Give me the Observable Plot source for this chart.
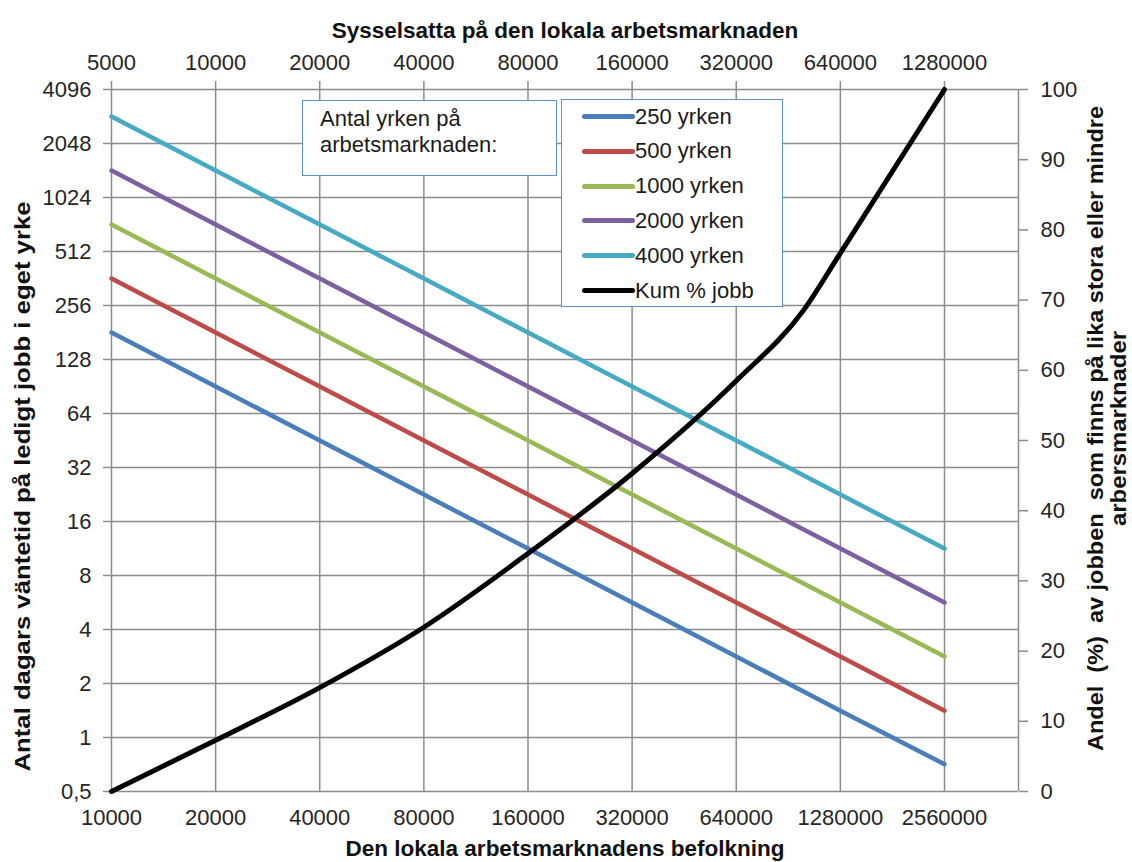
<!DOCTYPE html>
<html>
<head>
<meta charset="utf-8">
<script src="https://cdn.jsdelivr.net/npm/d3@7"></script>
<script src="https://cdn.jsdelivr.net/npm/@observablehq/plot@0.6"></script>
<style>
  body { margin: 0; background: #fff; }
  #wrap { position: relative; width: 1132px; height: 862px; font-family: "Liberation Sans", Arial, sans-serif; }
  #wrap svg text { white-space: pre; }
  .box { position: absolute; box-sizing: border-box; border: 1.5px solid #5f8fd0; background: #fff; color: #1a1a1a; font-size: 22px; }
  .row { position: absolute; left: 0; height: 35px; display: flex; align-items: center; white-space: nowrap; }
  .sw { width: 53px; height: 5px; border-radius: 2.5px; margin-left: 20px; }
</style>
</head>
<body>
<div id="wrap"></div>
<script>
// ---- data ----
const popTicks = [10000, 20000, 40000, 80000, 160000, 320000, 640000, 1280000, 2560000];
const employedTicks = [5000, 10000, 20000, 40000, 80000, 160000, 320000, 640000, 1280000];
const waitTicks = [0.5, 1, 2, 4, 8, 16, 32, 64, 128, 256, 512, 1024, 2048, 4096];
const waitTickLabels = ["0,5", "1", "2", "4", "8", "16", "32", "64", "128", "256", "512", "1024", "2048", "4096"];
const pctTicks = [0, 10, 20, 30, 40, 50, 60, 70, 80, 90, 100];

const seriesNames = ["250 yrken", "500 yrken", "1000 yrken", "2000 yrken", "4000 yrken"];
const seriesColors = ["#4a7ebb", "#be4b48", "#98b954", "#7d60a0", "#46aac5"];
const wait250  = [181, 90.5, 45.3, 22.6, 11.3, 5.66, 2.83, 1.41, 0.71];
const wait500  = [362, 181, 90.5, 45.3, 22.6, 11.3, 5.66, 2.83, 1.41];
const wait1000 = [724, 362, 181, 90.5, 45.3, 22.6, 11.3, 5.66, 2.83];
const wait2000 = [1448, 724, 362, 181, 90.5, 45.3, 22.6, 11.3, 5.66];
const wait4000 = [2896, 1448, 724, 362, 181, 90.5, 45.3, 22.6, 11.3];

const kumName = "Kum % jobb";
const kumPop = [10000, 20000, 40000, 80000, 160000, 320000, 640000, 1000000, 1280000, 2560000];
const kumPct = [0, 7.3, 14.8, 23.4, 33.9, 45.3, 58.5, 68.5, 76.7, 100];

const topTitle = "Sysselsatta på den lokala arbetsmarknaden";
const bottomTitle = "Den lokala arbetsmarknadens befolkning";
const leftTitle = "Antal dagars väntetid på ledigt jobb i eget yrke";
const rightTitle1 = "Andel  (%)  av jobben  som finns på lika stora eller mindre";
const rightTitle2 = "arbersmarknader";

// ---- build tables ----
const seriesValues = [wait250, wait500, wait1000, wait2000, wait4000];
const lines = seriesNames.flatMap((name, s) => seriesValues[s].map((v, i) => ({name, pop: popTicks[i], wait: v})));
const kum = kumPop.map((p, i) => ({pop: p, pct: kumPct[i]}));

// secondary axis: 0..100 % maps onto the full log range 0.5..4096 (13 doublings)
const yMin = 0.5, doublings = 13;
const pctToY = p => yMin * Math.pow(2, p * doublings / 100);
const yToPct = v => Math.round(Math.log2(v / yMin) / doublings * 100);

const xMax = 4190000;
const gridColor = "#8c8c8c";
const textColor = "#262626";
const titleStyle = {fontWeight: "bold", fontSize: 22.5, fill: "#111", lineAnchor: "middle", textAnchor: "middle"};

const chart = Plot.plot({
  width: 1132,
  height: 862,
  marginLeft: 111,
  marginRight: 114,
  marginTop: 89,
  marginBottom: 71,
  style: {fontFamily: '"Liberation Sans", Arial, sans-serif', fontSize: "22px", color: textColor, background: "#fff"},
  x: {type: "log", base: 2, domain: [10000, xMax]},
  y: {type: "log", base: 2, domain: [0.5, 4096]},
  color: {domain: seriesNames, range: seriesColors},
  marks: [
    Plot.gridX(popTicks, {stroke: gridColor, strokeOpacity: 1, strokeWidth: 1.5}),
    Plot.gridY(waitTicks, {stroke: gridColor, strokeOpacity: 1, strokeWidth: 1.5}),
    Plot.ruleX([xMax], {stroke: gridColor, strokeWidth: 1.5}),
    Plot.axisY(waitTicks, {anchor: "left", tickSize: 8, tickPadding: 12, stroke: gridColor, strokeWidth: 1.5, fill: textColor, fontSize: 22,
      tickFormat: d => waitTickLabels[waitTicks.indexOf(d)], label: null}),
    Plot.axisY(pctTicks.map(pctToY), {anchor: "right", tickSize: 9, tickPadding: 13, stroke: gridColor, strokeWidth: 1.5, fill: textColor, fontSize: 22,
      tickFormat: d => String(yToPct(d)), label: null}),
    Plot.axisX(popTicks, {anchor: "bottom", tickSize: 0, tickPadding: 18, fill: textColor, fontSize: 22,
      tickFormat: d => String(d), label: null}),
    Plot.axisX(popTicks, {anchor: "top", tickSize: 9, tickPadding: 11, stroke: gridColor, strokeWidth: 1.5, fill: textColor, fontSize: 22,
      tickFormat: d => String(employedTicks[popTicks.indexOf(d)]), label: null}),
    Plot.line(lines, {x: "pop", y: "wait", z: "name", stroke: "name", strokeWidth: 4.5, strokeLinecap: "round"}),
    Plot.line(kum, {x: "pop", y: d => pctToY(d.pct), stroke: "#000", strokeWidth: 5, curve: "monotone-x", strokeLinecap: "round"}),
    Plot.text([topTitle], {text: d => d, frameAnchor: "top", dy: -59, ...titleStyle}),
    Plot.text([bottomTitle], {text: d => d, frameAnchor: "bottom", dy: 57, ...titleStyle}),
    Plot.text([leftTitle], {text: d => d, frameAnchor: "left", dx: -89, dy: 46, rotate: -90, ...titleStyle}),
    Plot.text([rightTitle1], {text: d => d, frameAnchor: "right", dx: 77, dy: -12, rotate: -90, ...titleStyle, fontSize: 22}),
    Plot.text([rightTitle2], {text: d => d, frameAnchor: "right", dx: 100, dy: -12, rotate: -90, ...titleStyle, fontSize: 22})
  ]
});

const wrap = document.getElementById("wrap");
wrap.appendChild(chart);

// the reference's rotated titles are drawn somewhat elongated along their direction
const stretch = {[leftTitle]: 570, [rightTitle1]: 645, [rightTitle2]: 195};
d3.select(chart).selectAll("text").each(function() {
  const L = stretch[this.textContent];
  if (L) d3.select(this).attr("textLength", L).attr("lengthAdjust", "spacingAndGlyphs");
});

// ---- legend boxes (overlaid inside plot area) ----
const box1 = document.createElement("div");
box1.className = "box";
Object.assign(box1.style, {left: "302px", top: "100px", width: "255px", height: "76px", paddingLeft: "17px", paddingTop: "5px", lineHeight: "26px"});
box1.innerHTML = "Antal yrken på<br>arbetsmarknaden:";
wrap.appendChild(box1);

const box2 = document.createElement("div");
box2.className = "box";
Object.assign(box2.style, {left: "561px", top: "99px", width: "222px", height: "208px"});
const legendNames = [...seriesNames, kumName];
const legendColors = [...seriesColors, "#000"];
legendNames.forEach((n, i) => {
  const row = document.createElement("div");
  row.className = "row";
  row.style.top = (-1 + i * 34.8) + "px";
  const sw = document.createElement("div");
  sw.className = "sw";
  sw.style.background = legendColors[i];
  const t = document.createElement("span");
  t.textContent = n;
  row.appendChild(sw);
  row.appendChild(t);
  box2.appendChild(row);
});
wrap.appendChild(box2);
</script>
</body>
</html>
